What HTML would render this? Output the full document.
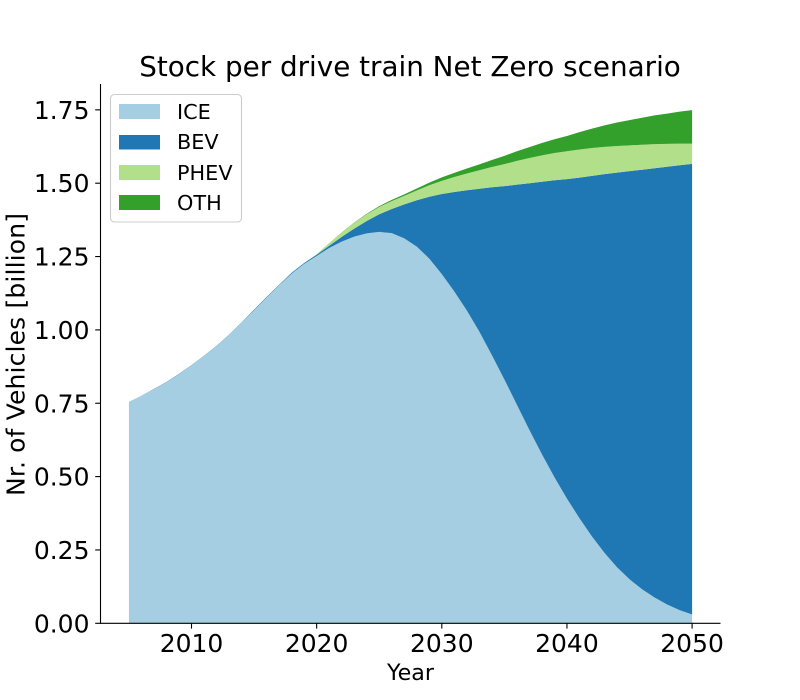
<!DOCTYPE html>
<html lang="en">
<head>
<meta charset="utf-8">
<title>Stock per drive train Net Zero scenario</title>
<style>
html,body{margin:0;padding:0;background:#fff;}
svg{display:block;font-family:"DejaVu Sans","Liberation Sans",sans-serif;fill:#000;}
</style>
</head>
<body>
<svg id="chart" width="800" height="700" viewBox="0 0 800 700" xmlns="http://www.w3.org/2000/svg">
  <rect x="0" y="0" width="800" height="700" fill="#ffffff"/>
  <g id="areas"></g>
  <g id="x-axis">
    <line x1="100" y1="623.3" x2="720.5" y2="623.3" stroke="#000" stroke-width="1.1"/>
  </g>
  <g id="y-axis">
    <line x1="100.5" y1="84" x2="100.5" y2="623.8" stroke="#000" stroke-width="1.1"/>
  </g>
  <text x="410" y="76" font-size="27.8" text-anchor="middle">Stock per drive train Net Zero scenario</text>
  <text x="410.5" y="680" font-size="22.2" text-anchor="middle">Year</text>
  <text transform="translate(24.5,354.5) rotate(-90)" font-size="25" text-anchor="middle" textLength="283" lengthAdjust="spacing">Nr. of Vehicles [billion]</text>
  <g>
    <rect x="110.5" y="94.5" width="131" height="127.5" rx="4" ry="4" fill="#fff" fill-opacity="0.8" stroke="#cccccc" stroke-width="1.1"/>
    <g>
      <rect x="119" y="104" width="41" height="15" fill="#a6cee3"/>
      <text x="177" y="119" font-size="20.8">ICE</text>
    </g>
    <g>
      <rect x="119" y="135" width="41" height="14.5" fill="#1f78b4"/>
      <text x="177" y="149" font-size="20.8">BEV</text>
    </g>
    <g>
      <rect x="119" y="165" width="41" height="15" fill="#b2df8a"/>
      <text x="177" y="180" font-size="20.8">PHEV</text>
    </g>
    <g>
      <rect x="119" y="195" width="41" height="15" fill="#33a02c"/>
      <text x="177" y="210" font-size="20.8">OTH</text>
    </g>
  </g>
</svg>
<script>
const startYear = 2005;
const iceValues = [0.755,0.776,0.798,0.822,0.849,0.879,0.911,0.945,0.983,1.024,1.067,1.110,1.152,1.192,1.225,1.252,1.279,1.301,1.318,1.329,1.334,1.330,1.312,1.284,1.243,1.190,1.131,1.066,0.994,0.914,0.831,0.745,0.659,0.576,0.498,0.425,0.358,0.296,0.240,0.191,0.150,0.116,0.088,0.064,0.045,0.030];
const bevValues = [0.000,0.000,0.001,0.001,0.001,0.001,0.001,0.001,0.001,0.001,0.002,0.002,0.002,0.003,0.003,0.004,0.008,0.016,0.027,0.042,0.060,0.082,0.116,0.158,0.211,0.273,0.339,0.410,0.487,0.572,0.659,0.750,0.841,0.929,1.012,1.089,1.161,1.229,1.291,1.345,1.391,1.430,1.463,1.492,1.516,1.536];
const phevValues = [0,0,0,0,0,0,0,0,0,0,0,0,0,0,0,0.002,0.009,0.016,0.020,0.023,0.025,0.027,0.029,0.033,0.039,0.045,0.051,0.057,0.063,0.069,0.075,0.081,0.086,0.090,0.093,0.095,0.096,0.095,0.093,0.091,0.088,0.085,0.082,0.078,0.074,0.069];
const othValues = [0,0,0,0,0,0,0,0,0,0,0,0,0,0,0,0,0,0,0.001,0.002,0.003,0.004,0.005,0.007,0.009,0.012,0.014,0.017,0.020,0.024,0.028,0.033,0.037,0.042,0.047,0.052,0.059,0.066,0.073,0.080,0.086,0.092,0.098,0.103,0.109,0.114];
const xTickLabels = ['2010','2020','2030','2040','2050'];
const yTickLabels = ['0.00','0.25','0.50','0.75','1.00','1.25','1.50','1.75'];

const SVG_NS = 'http://www.w3.org/2000/svg';
function xScale(year){ return 191.5 + (year - 2010) * 12.515; }
function yScale(v){ return 623.3 - v * 293.4; }

const areasGroup = document.getElementById('areas');
const xAxisGroup = document.getElementById('x-axis');
const yAxisGroup = document.getElementById('y-axis');

function addBand(lower, upper, color, name){
  let d = '';
  for(let i = 0; i < upper.length; i++){
    d += (i ? 'L' : 'M') + xScale(startYear + i).toFixed(2) + ' ' + yScale(upper[i]).toFixed(2);
  }
  for(let i = lower.length - 1; i >= 0; i--){
    d += 'L' + xScale(startYear + i).toFixed(2) + ' ' + yScale(lower[i]).toFixed(2);
  }
  d += 'Z';
  const band = document.createElementNS(SVG_NS, 'path');
  band.setAttribute('d', d);
  band.setAttribute('fill', color);
  
  
  areasGroup.appendChild(band);
}

let baseline = iceValues.map(() => 0);
function stackOn(values){
  return values.map((v, i) => baseline[i] + v);
}
const iceTop = stackOn(iceValues);
addBand(baseline, iceTop, '#a6cee3', 'area-ice');
baseline = iceTop;
const bevTop = stackOn(bevValues);
addBand(baseline, bevTop, '#1f78b4', 'area-bev');
baseline = bevTop;
const phevTop = stackOn(phevValues);
addBand(baseline, phevTop, '#b2df8a', 'area-phev');
baseline = phevTop;
const othTop = stackOn(othValues);
addBand(baseline, othTop, '#33a02c', 'area-oth');

xTickLabels.forEach(function(label){
  const x = xScale(Number(label));
  const tick = document.createElementNS(SVG_NS, 'line');
  tick.setAttribute('x1', x);
  tick.setAttribute('x2', x);
  tick.setAttribute('y1', 623.3);
  tick.setAttribute('y2', 628.6);
  tick.setAttribute('stroke', '#000');
  tick.setAttribute('stroke-width', '1.1');
  
  
  xAxisGroup.appendChild(tick);
  const text = document.createElementNS(SVG_NS, 'text');
  text.setAttribute('x', x);
  text.setAttribute('y', 652);
  text.setAttribute('font-size', '25');
  text.setAttribute('text-anchor', 'middle');
  text.textContent = label;
  
  
  xAxisGroup.appendChild(text);
});

yTickLabels.forEach(function(label){
  const y = yScale(Number(label));
  const tick = document.createElementNS(SVG_NS, 'line');
  tick.setAttribute('x1', 95.2);
  tick.setAttribute('x2', 100.5);
  tick.setAttribute('y1', y);
  tick.setAttribute('y2', y);
  tick.setAttribute('stroke', '#000');
  tick.setAttribute('stroke-width', '1.1');
  
  
  yAxisGroup.appendChild(tick);
  const text = document.createElementNS(SVG_NS, 'text');
  text.setAttribute('x', 89.5);
  text.setAttribute('y', y + 9);
  text.setAttribute('font-size', '25');
  text.setAttribute('text-anchor', 'end');
  text.textContent = label;
  
  
  yAxisGroup.appendChild(text);
});
</script>
</body>
</html>
